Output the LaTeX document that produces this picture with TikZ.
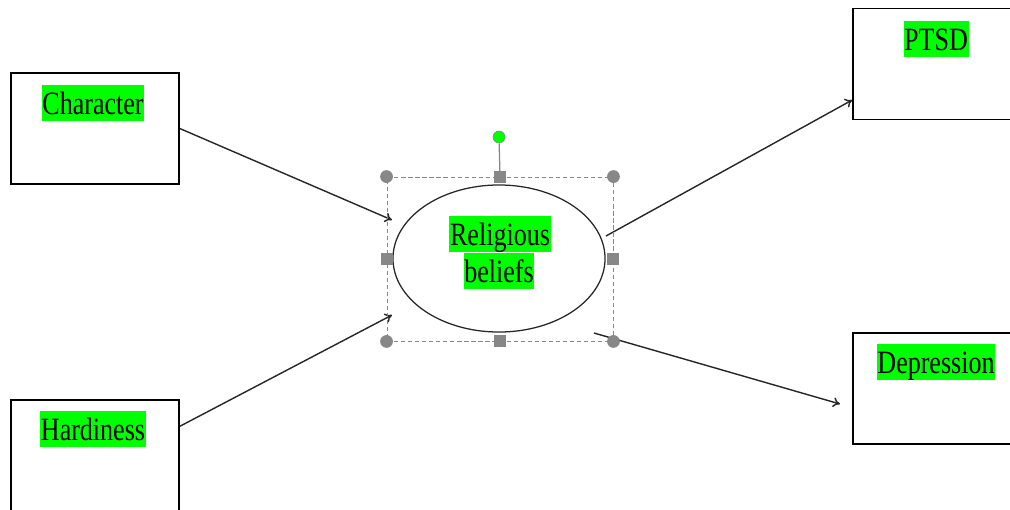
\documentclass[tikz,border=0pt]{standalone}
\usepackage{fontspec}
\setmainfont{Liberation Serif}
\usetikzlibrary{shapes,arrows,arrows.meta,positioning}
\definecolor{hlgreen}{RGB}{0,255,0}
\definecolor{handlegray}{RGB}{135,135,135}
\tikzset{
	box/.style={draw=black, line width=1.1pt, minimum width=4.2cm, minimum height=2.775cm, inner sep=0pt},
	hl/.style={fill=hlgreen, inner xsep=0.5pt, inner ysep=0pt, text height=21pt, text depth=4.5pt, font=\fontsize{18.5}{20}\selectfont},
	link/.style={-{To[length=5pt,width=7pt]}, draw=black!85, line width=1pt},
	corner/.style={circle, fill=handlegray, inner sep=0pt, minimum size=0.32cm},
	side/.style={rectangle, fill=handlegray, inner sep=0pt, minimum size=0.3cm},
}
\newcommand{\tall}[1]{\scalebox{1}[1.25]{#1}}

\begin{document}
\begin{tikzpicture}[x=0.025cm, y=-0.025cm]
			\useasboundingbox (0,0) rectangle (1010,509);
			% boxes
			\node[box] (char) at (95,128.5) {};
			\node[box] (hard) at (95,455.5) {};
			\node[box] (ptsd) at (937,64) {};
			\node[box] (dep) at (937,388.5) {};
			\node[draw=black!85, line width=0.9pt, ellipse, minimum width=5.3cm, minimum height=3.675cm] (rel) at (499,258.5) {};
			% labels
			\node[hl, anchor=north] (chartext) at (93,85) {\tall{Character}};
			\node[hl, anchor=north] (hardtext) at (93,411) {\tall{Hardiness}};
			\node[hl, anchor=north] (ptsdtext) at (936,21) {\tall{PTSD}};
			\node[hl, anchor=north] (deptext) at (936,344) {\tall{Depression}};
			\node[hl, anchor=north] (reltext) at (500,216) {\tall{Religious}};
			\node[hl, anchor=north] (beltext) at (499,253) {\tall{beliefs}};
			% arrow ends
			\coordinate (relin1) at (392,220);
			\coordinate (relin2) at (392,315);
			\coordinate (relout1) at (606,236);
			\coordinate (relout2) at (594,333);
			\coordinate (depin) at (840,404);
			\draw[link] (char.east) -- (relin1);
			\draw[link] (hard.19) -- (relin2);
			\draw[link] (relout1) -- (ptsd.203);
			\draw[link] (relout2) -- (depin);
			% selection frame
			\node[draw=handlegray, dashed, dash pattern=on 3pt off 2pt, line width=0.6pt, minimum width=5.65cm, minimum height=4.1cm] (sel) at (500,259) {};
			\node[circle, fill=hlgreen, draw=handlegray, line width=0.4pt, inner sep=0pt, minimum size=0.3cm] (rot) at (499,137) {};
			\draw[handlegray, line width=0.9pt] (rot) -- (sel.north);
			\foreach \a in {north west, north east, south west, south east}
				\node[corner] at (sel.\a) {};
			\foreach \a in {north, south, east, west}
				\node[side] at (sel.\a) {};
		\end{tikzpicture}
\end{document}
